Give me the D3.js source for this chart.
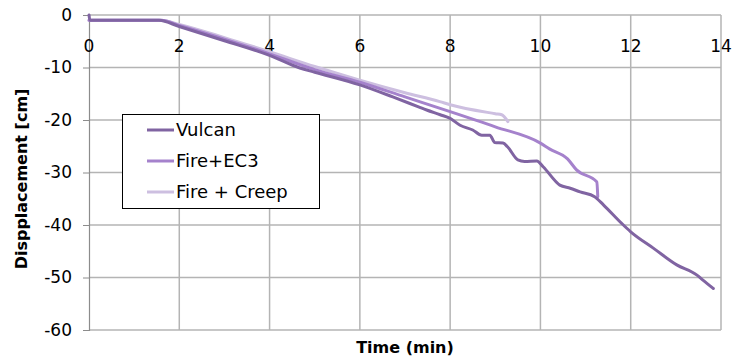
<!DOCTYPE html>
<html>
<head>
<meta charset="utf-8">
<script src="https://cdn.jsdelivr.net/npm/d3@7"></script>
<style>
  body { margin: 0; background: #fff; }
  text { font-family: "DejaVu Sans", sans-serif; }
</style>
</head>
<body>
<div id="chart"></div>
<script>
// series data: [time (min), displacement (cm)]
var vulcan = [
  [0, 0], [0.02, -1], [1.55, -1], [2, -2.2], [3, -4.9], [4, -7.7], [4.67, -10.1],
  [5, -10.9], [6, -13.3], [6.73, -15.6], [7.3, -17.5], [7.48, -18.1], [7.78, -19.0],
  [8, -19.7], [8.22, -21], [8.5, -21.9], [8.7, -22.9], [8.88, -22.9], [8.99, -24.3],
  [9.17, -24.4], [9.27, -25.1], [9.5, -27.6], [9.65, -27.9], [9.92, -27.8],
  [10.06, -28.9], [10.43, -32.4], [10.66, -33.0], [10.88, -33.7], [11.2, -34.6],
  [11.4, -36.2], [11.8, -39.7], [12, -41.3], [12.5, -44.4], [13.02, -47.6],
  [13.46, -49.5], [13.6, -50.5], [13.83, -52.1]
];
var fireEC3 = [
  [0, -1], [1.6, -1], [2, -2.0], [3, -4.6], [4, -7.4], [5, -10.4], [6, -12.8],
  [7, -15.6], [8, -18.4], [9, -21.3], [10, -24.4], [10.2, -25.5], [10.6, -27.4],
  [10.8, -29.5], [11.25, -31.8], [11.27, -34.6]
];
var fireCreep = [
  [0, -1], [1.6, -1], [2, -1.8], [3, -4.3], [4, -7.0], [5, -9.8], [6, -12.4],
  [7, -14.8], [7.77, -16.5], [8, -17.1], [9, -18.8], [9.14, -19.0], [9.28, -20.3]
];
var seriesNames = ["Vulcan", "Fire+EC3", "Fire + Creep"];
var seriesColors = ["#8064a2", "#a582cc", "#cdbfe0"];
var xTicks = [0, 2, 4, 6, 8, 10, 12, 14];
var yTicks = [0, -10, -20, -30, -40, -50, -60];

var svgWidth = 733;
var svgHeight = 362;

var chartMargin = { top: 15, right: 12, bottom: 32, left: 89 };
var chartWidth = svgWidth - chartMargin.left - chartMargin.right;
var chartHeight = svgHeight - chartMargin.top - chartMargin.bottom;

var svg = d3.select("#chart")
  .append("svg")
  .attr("width", svgWidth)
  .attr("height", svgHeight);

var chartGroup = svg.append("g")
  .attr("transform", `translate(${chartMargin.left}, ${chartMargin.top})`);

var xScale = d3.scaleLinear().domain([0, 14]).range([0, chartWidth]);
var yScale = d3.scaleLinear().domain([-60, 0]).range([chartHeight, 0]);

// gridlines
chartGroup.selectAll(".vgrid")
  .data(xTicks.slice(1))
  .enter()
  .append("line")
  .attr("x1", d => xScale(d))
  .attr("x2", d => xScale(d))
  .attr("y1", 0)
  .attr("y2", chartHeight)
  .attr("stroke", "#b4b4b4")
  .attr("stroke-width", 1.5);

chartGroup.selectAll(".hgrid")
  .data(yTicks)
  .enter()
  .append("line")
  .attr("x1", 0)
  .attr("x2", chartWidth)
  .attr("y1", d => yScale(d))
  .attr("y2", d => yScale(d))
  .attr("stroke", "#b4b4b4")
  .attr("stroke-width", 1.5);

// left axis with ticks
var leftAxis = d3.axisLeft(yScale).tickValues(yTicks).tickSize(6).tickFormat(d => d);
var yAxisG = chartGroup.append("g").call(leftAxis);
yAxisG.select(".domain").attr("stroke", "#8c8c8c").attr("stroke-width", 1.2);
yAxisG.selectAll(".tick line").attr("stroke", "#8c8c8c");
yAxisG.selectAll(".tick text")
  .attr("x", -17)
  .attr("font-size", 17)
  .attr("fill", "#000")
  .style("font-family", "DejaVu Sans, sans-serif");

// x tick labels (sit a bit under the top edge)
chartGroup.selectAll(".xlabel")
  .data(xTicks)
  .enter()
  .append("text")
  .attr("x", d => xScale(d))
  .attr("y", 31)
  .attr("dy", "0.35em")
  .attr("text-anchor", "middle")
  .attr("font-size", 17)
  .attr("fill", "#000")
  .text(d => d);

// lines, smoothed like the original
var line = d3.line()
  .x(d => xScale(d[0]))
  .y(d => yScale(d[1]))
  .curve(d3.curveMonotoneX);

var allSeries = [fireCreep, fireEC3, vulcan];
var allColors = [seriesColors[2], seriesColors[1], seriesColors[0]];

chartGroup.selectAll(".series")
  .data(allSeries)
  .enter()
  .append("path")
  .attr("d", d => line(d))
  .attr("fill", "none")
  .attr("stroke", (d, i) => allColors[i])
  .attr("stroke-width", 3)
  .attr("stroke-linejoin", "round")
  .attr("stroke-linecap", "round");

// axis titles
svg.append("text")
  .attr("x", 405)
  .attr("y", 347)
  .attr("dy", "0.35em")
  .attr("text-anchor", "middle")
  .attr("font-size", 16)
  .attr("font-weight", "bold")
  .text("Time (min)");

svg.append("text")
  .attr("transform", "translate(21, 179) rotate(-90)")
  .attr("dy", "0.35em")
  .attr("text-anchor", "middle")
  .attr("font-size", 16)
  .attr("font-weight", "bold")
  .text("Dispplacement [cm]");

// legend
var legend = svg.append("g");
legend.append("rect")
  .attr("x", 122.5)
  .attr("y", 114.5)
  .attr("width", 197)
  .attr("height", 94)
  .attr("fill", "#fff")
  .attr("stroke", "#000")
  .attr("stroke-width", 1);

var legendItems = legend.selectAll(".item")
  .data(seriesNames)
  .enter()
  .append("g")
  .attr("transform", (d, i) => `translate(147, ${130 + i * 31})`);

legendItems.append("line")
  .attr("x1", 0)
  .attr("x2", 27)
  .attr("stroke", (d, i) => seriesColors[i])
  .attr("stroke-width", 3);

legendItems.append("text")
  .attr("x", 29)
  .attr("dy", "0.35em")
  .attr("font-size", 18)
  .text(d => d);
</script>
</body>
</html>
